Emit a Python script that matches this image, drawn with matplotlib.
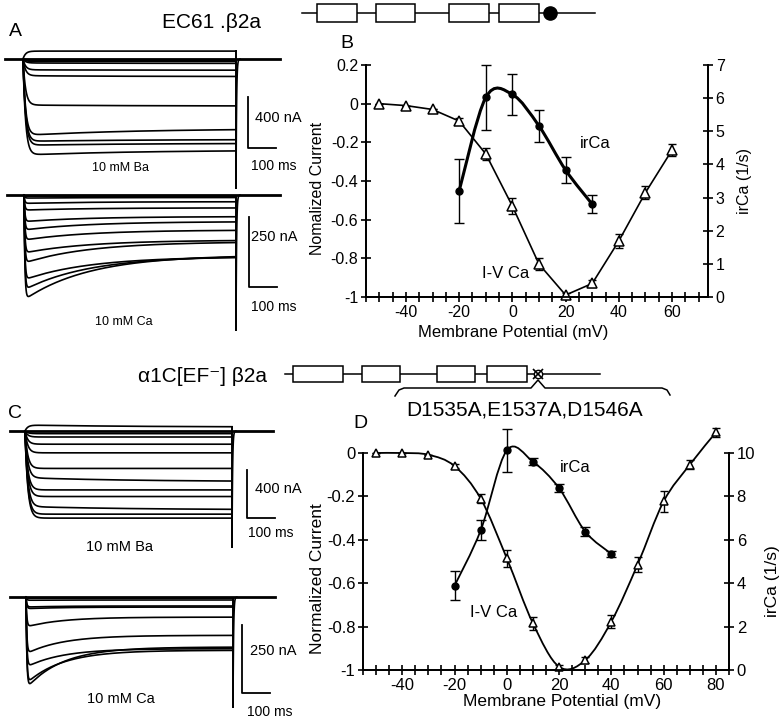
import numpy as np
import matplotlib
matplotlib.use("Agg")
import matplotlib.pyplot as plt
from matplotlib.path import Path
from matplotlib.patches import PathPatch, Rectangle

plt.rcParams['font.family'] = ['Liberation Sans', 'DejaVu Sans']

W, H = 780, 726

# ---------------- data: panel B (EC61 . beta2a) ----------------
v_iv_B = [-50, -40, -30, -20, -10, 0, 10, 20, 30, 40, 50, 60]
iv_B = [0.0, -0.01, -0.03, -0.09, -0.26, -0.53, -0.83, -0.99, -0.93, -0.71, -0.46, -0.24]
iv_B_err = [0, 0, 0, 0.015, 0.03, 0.04, 0.03, 0.01, 0.02, 0.035, 0.035, 0.03]
v_ir_B = [-20, -10, 0, 10, 20, 30]
ir_B = [3.2, 6.02, 6.11, 5.16, 3.83, 2.8]
ir_B_err = [0.97, 0.97, 0.63, 0.48, 0.39, 0.27]

# ---------------- data: panel D (alpha1C[EF-] beta2a) ----------------
v_iv_D = [-50, -40, -30, -20, -10, 0, 10, 20, 30, 40, 50, 60, 70, 80]
iv_D = [0.0, 0.0, -0.008, -0.06, -0.21, -0.485, -0.785, -0.985, -0.955, -0.777, -0.515, -0.223, -0.054, 0.095]
iv_D_err = [0, 0, 0, 0.01, 0.02, 0.04, 0.03, 0.01, 0.015, 0.03, 0.035, 0.05, 0.02, 0.02]
v_ir_D = [-20, -10, 0, 10, 20, 30, 40]
ir_D = [3.88, 6.43, 10.12, 9.6, 8.38, 6.38, 5.35]
ir_D_err = [0.67, 0.46, 1.0, 0.15, 0.2, 0.2, 0.12]

# ---------------- data: current traces (nA; peak and end of pulse) ----------------
ba_wt_peak = [62, -5, -12, -19, -31, -85, -131, -361, -600, -646, -677, -754]
ba_wt_end = [62, -5, -12, -19, -35, -88, -138, -369, -546, -631, -661, -715]
ca_wt_peak = [-4, -11, -30, -54, -95, -125, -161, -207, -243, -303, -339, -375]
ca_wt_end = [-4, -9, -24, -46, -77, -95, -125, -161, -167, -220, -218, -214]
ba_ef_peak = [50, -22, -50, -110, -182, -312, -389, -491, -546, -629, -693, -726]
ba_ef_end = [33, -22, -50, -110, -182, -312, -422, -491, -546, -657, -693, -726]
ca_ef_peak = [-4, -12, -37, -43, -110, -209, -258, -319, -337]
ca_ef_end = [-4, -11, -33, -37, -74, -141, -190, -196, -184]
pulse_ms = 750

fig = plt.figure(figsize=(7.8, 7.26), dpi=100)

# overlay axes in pixel coordinates for text and schematics
ov = fig.add_axes([0, 0, 1, 1])
ov.set_xlim(0, W)
ov.set_ylim(H, 0)
ov.axis('off')


def smooth_path(xs, ys):
    P = np.column_stack([xs, ys]).astype(float)
    n = len(P)
    verts = [P[0]]
    codes = [Path.MOVETO]
    for i in range(n - 1):
        p0 = P[i - 1] if i > 0 else P[i]
        p1 = P[i]
        p2 = P[i + 1]
        p3 = P[i + 2] if i + 2 < n else P[i + 1]
        c1 = p1 + (p2 - p0) / 6.0
        c2 = p2 - (p3 - p1) / 6.0
        verts += [c1, c2, p2]
        codes += [Path.CURVE4] * 3
    return Path(verts, codes)


def noclip(container):
    for a in container.lines[1] + container.lines[2]:
        a.set_clip_on(False)
    if container.lines[0] is not None:
        container.lines[0].set_clip_on(False)


def style_axes(ax, ax2, xticks, xlabels, yticks, ylabels, y2ticks, fs):
    for s in ['top']:
        ax.spines[s].set_visible(False)
        ax2.spines[s].set_visible(False)
    for s in ax.spines.values():
        s.set_linewidth(1.3)
    for s in ax2.spines.values():
        s.set_linewidth(1.3)
    ax.set_xticks(xticks)
    ax.set_xticklabels(xlabels, fontsize=fs)
    ax.set_yticks(yticks)
    ax.set_yticklabels(ylabels, fontsize=fs)
    ax2.set_yticks(y2ticks)
    ax2.set_yticklabels([str(v) for v in y2ticks], fontsize=fs)
    ax.tick_params(direction='inout', length=7, width=1.2, pad=2)
    ax2.tick_params(direction='inout', length=7, width=1.2, pad=2)
    ax.patch.set_alpha(0)
    ax2.patch.set_alpha(0)


# ================= Panel B =================
axB = fig.add_axes([366 / W, 1 - 297 / H, 342 / W, 232 / H])
axB2 = axB.twinx()
axB.set_xlim(-55, 73.5)
axB.set_ylim(-1, 0.2)
axB2.set_ylim(0, 7)
xt = list(range(-55, 75, 5))
style_axes(axB, axB2, xt, [str(v) if (v % 20 == 0 and v >= -40) else '' for v in xt],
           [0.2, 0, -0.2, -0.4, -0.6, -0.8, -1], ['0.2', '0', '-0.2', '-0.4', '-0.6', '-0.8', '-1'],
           list(range(0, 8)), 11.5)
axB.plot(v_iv_B, iv_B, color='k', lw=1.2, zorder=2)
c = axB.errorbar(v_iv_B, iv_B, yerr=iv_B_err, fmt='none', ecolor='k', elinewidth=1, capsize=3, capthick=1)
noclip(c)
axB.plot(v_iv_B, iv_B, ls='none', marker='^', ms=6.5, mfc='white', mec='k', mew=1.1, zorder=4, clip_on=False)
axB2.add_patch(PathPatch(smooth_path(v_ir_B, ir_B), fill=False, lw=2.2, ec='k', clip_on=False))
c = axB2.errorbar(v_ir_B, ir_B, yerr=ir_B_err, fmt='none', ecolor='k', elinewidth=1, capsize=3.5, capthick=1)
noclip(c)
axB2.plot(v_ir_B, ir_B, ls='none', marker='o', ms=5, color='k', zorder=4, clip_on=False)
axB.set_ylabel('Nomalized Current', fontsize=11.5)
axB.yaxis.set_label_coords(-0.12, 0.47)
axB2.set_ylabel('irCa (1/s)', fontsize=11.5)
axB2.yaxis.set_label_coords(1.085, 0.5)
axB.set_xlabel('Membrane Potential (mV)', fontsize=12)
axB.xaxis.set_label_coords(0.43, -0.12)

# ================= Panel D =================
axD = fig.add_axes([363 / W, 1 - 670 / H, 366 / W, 217 / H])
axD2 = axD.twinx()
axD.set_xlim(-55, 85)
axD.set_ylim(-1, 0)
axD2.set_ylim(0, 10)
xt = list(range(-55, 90, 5))
style_axes(axD, axD2, xt, [str(v) if (v % 20 == 0 and v >= -40) else '' for v in xt],
           [0, -0.2, -0.4, -0.6, -0.8, -1], ['0', '-0.2', '-0.4', '-0.6', '-0.8', '-1'],
           list(range(0, 12, 2)), 12)
axD.add_patch(PathPatch(smooth_path(v_iv_D, iv_D), fill=False, lw=1.3, ec='k', clip_on=False))
c = axD.errorbar(v_iv_D, iv_D, yerr=iv_D_err, fmt='none', ecolor='k', elinewidth=1, capsize=3, capthick=1)
noclip(c)
axD.plot(v_iv_D, iv_D, ls='none', marker='^', ms=6, mfc='white', mec='k', mew=1.1, zorder=4, clip_on=False)
axD2.add_patch(PathPatch(smooth_path(v_ir_D, ir_D), fill=False, lw=1.3, ec='k', clip_on=False))
c = axD2.errorbar(v_ir_D, ir_D, yerr=ir_D_err, fmt='none', ecolor='k', elinewidth=1, capsize=3.5, capthick=1)
noclip(c)
axD2.plot(v_ir_D, ir_D, ls='none', marker='o', ms=5, color='k', zorder=4, clip_on=False)
axD.set_ylabel('Normalized Current', fontsize=12.5)
axD.yaxis.set_label_coords(-0.105, 0.42)
axD2.set_ylabel('irCa (1/s)', fontsize=12.5)
axD2.yaxis.set_label_coords(1.098, 0.41)
axD.set_xlabel('Membrane Potential (mV)', fontsize=12.5)
axD.xaxis.set_label_coords(0.545, -0.11)

# annotations
ov.text(580, 148, 'irCa', fontsize=12, ha='left', va='baseline')
ov.text(482, 278, 'I-V Ca', fontsize=12, ha='left', va='baseline')
ov.text(560, 472, 'irCa', fontsize=12, ha='left', va='baseline')
ov.text(470, 617, 'I-V Ca', fontsize=12, ha='left', va='baseline')


# ================= current traces =================
def trace_panel(box, t0, base, ms_pp, na_pp, peaks, ends, tau_act, tau_inact,
                tail_py, base_px, bar_px, bar_na, texts):
    x0, y0, x1, y1 = box
    ax = fig.add_axes([x0 / W, 1 - y1 / H, (x1 - x0) / W, (y1 - y0) / H])
    ax.set_xlim((x0 - t0) * ms_pp, (x1 - t0) * ms_pp)
    ax.set_ylim(-(y1 - base) * na_pp, (base - y0) * na_pp)
    ax.axis('off')
    tx = lambda px: (px - t0) * ms_pp
    iy = lambda py: -(py - base) * na_pp
    t = np.linspace(0, pulse_ms, 600)
    for pk, en in zip(peaks, ends):
        act = 1 - np.exp(-t / tau_act)
        cur = (en + (pk - en) * np.exp(-t / tau_inact)) * act
        ax.plot(np.r_[0, t], np.r_[0, cur], color='k', lw=1.2, clip_on=False)
    # tail at end of pulse
    tail = iy(tail_py)
    top = max(ends)
    ax.plot([pulse_ms, pulse_ms], [top, tail], color='k', lw=1.4, clip_on=False)
    tt = np.linspace(0, 14, 40)
    ax.plot(pulse_ms + tt, tail * np.exp(-tt / 2.0), color='k', lw=1.2, clip_on=False)
    # baseline
    ax.plot([tx(base_px[0]), tx(base_px[1])], [0, 0], color='k', lw=2.0, clip_on=False)
    # scale bar
    bx, by = bar_px
    ax.plot([tx(bx), tx(bx), tx(bx) + 100], [iy(by) + bar_na, iy(by), iy(by)],
            color='k', lw=1.3, clip_on=False)
    for (x, y, s, fs, ha) in texts:
        ov.text(x, y, s, fontsize=fs, ha=ha, va='center')
    return ax


trace_panel((0, 40, 300, 190), 23, 59, pulse_ms / 213, 400 / 51, ba_wt_peak, ba_wt_end, 9, 400,
            188, (5, 280), (248, 148), 400,
            [(255, 118, '400 nA', 10.5, 'left'), (251, 166, '100 ms', 10, 'left'),
             (121, 168, '10 mM Ba', 9, 'center')])
trace_panel((0, 185, 300, 340), 24, 195, pulse_ms / 212, 250 / 70, ca_wt_peak, ca_wt_end, 3, 230,
            330, (7, 280), (249, 287), 250,
            [(251, 237, '250 nA', 10.5, 'left'), (251, 307, '100 ms', 10, 'left'),
             (124, 322, '10 mM Ca', 9, 'center')])
trace_panel((0, 420, 300, 560), 25, 431, pulse_ms / 207, 400 / 48, ba_ef_peak, ba_ef_end, 10, 400,
            547, (10, 273), (247, 518), 400,
            [(255, 489, '400 nA', 10.5, 'left'), (248, 533, '100 ms', 10, 'left'),
             (119, 547, '10 mM Ba', 10.5, 'center')])
trace_panel((0, 585, 300, 715), 26, 597, pulse_ms / 207, 250 / 68, ca_ef_peak, ca_ef_end, 3, 130,
            707, (10, 275), (242, 693), 250,
            [(250, 651, '250 nA', 10.5, 'left'), (247, 712, '100 ms', 10, 'left'),
             (121, 699, '10 mM Ca', 10.5, 'center')])

# ================= panel letters =================
for (x, y, s) in [(15, 31, 'A'), (347, 43, 'B'), (15, 413, 'C'), (360, 424, 'D')]:
    ov.text(x, y, s, fontsize=14, ha='center', va='center')

# ================= schematics =================
top_boxes = [(317, 357), (376, 415), (449, 489), (499, 539)]
ov.plot([302, 595], [13, 13], color='k', lw=1.1, zorder=1)
for a, b in top_boxes:
    ov.add_patch(Rectangle((a, 4), b - a, 18, fc='white', ec='k', lw=1.1, zorder=2))
ov.plot([550], [13], marker='o', ms=9.5, color='k', zorder=3)
ov.text(162, 28, 'EC61 .\u03b22a', fontsize=15, ha='left', va='baseline')

mid_boxes = [(293, 343), (362, 400), (437, 475), (487, 527)]
ov.plot([285, 600], [374, 374], color='k', lw=1.1, zorder=1)
for a, b in mid_boxes:
    ov.add_patch(Rectangle((a, 366), b - a, 16, fc='white', ec='k', lw=1.1, zorder=2))
ov.plot([538], [374], marker='o', ms=6, mfc='white', mec='k', mew=1, zorder=3)
ov.plot([538], [374], marker='x', ms=7, color='k', mew=1.2, zorder=4)
ov.text(267, 382, '\u03b11C[EF\u207b] \u03b22a', fontsize=15, ha='right', va='baseline')
# brace
bx = [395, 399, 404, 531, 538, 545, 662, 667, 670]
by = [396, 390, 388, 388, 380, 388, 388, 390, 395]
ov.plot(bx, by, color='k', lw=1.1)
ov.text(525, 415, 'D1535A,E1537A,D1546A', fontsize=15, ha='center', va='baseline')

fig.savefig('out.png', dpi=100)
